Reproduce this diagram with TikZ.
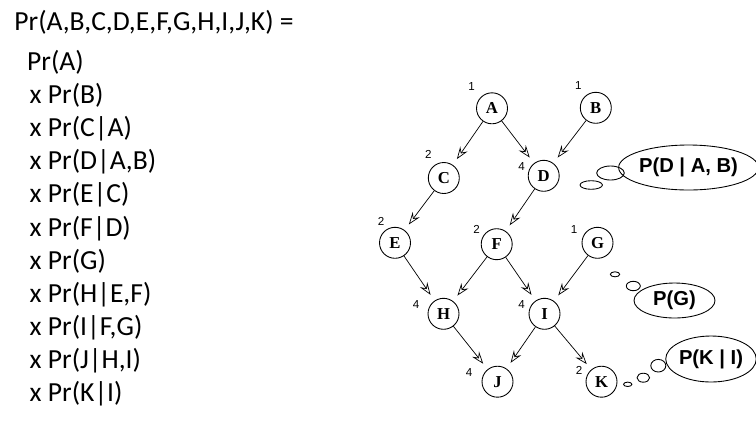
\documentclass[tikz,border=0pt]{standalone}
\usepackage{fontspec}
\setmainfont{Liberation Serif}
\newfontfamily\calibri{Carlito}
\newfontfamily\arial{Liberation Sans}
\usetikzlibrary{arrows.meta,shapes.geometric}

\begin{document}
\begin{tikzpicture}[x=0.02cm,y=-0.02cm,line width=0.5pt,
    >={Stealth[open,length=7pt,width=5pt,inset=2.5pt]},
    var/.style={draw,circle,minimum size=0.62cm,inner sep=0pt,font=\fontsize{9.5}{11}\selectfont\bfseries},
    num/.style={inner sep=0pt,font=\arial\fontsize{6.6}{8}\selectfont},
    thought/.style={draw,ellipse,inner sep=0pt,font=\arial\fontsize{11.5}{13}\selectfont\bfseries},
    term/.style={anchor=base west,inner sep=0pt,font=\calibri\fontsize{15.7}{18}\selectfont},
    dep/.style={->,thin,shorten >=4pt}]
    \useasboundingbox (0,0) rectangle (756,430);

    % factorisation
    \node[term] (l0) at (14,30.7) {Pr(A,B,C,D,E,F,G,H,I,J,K) =};
    \node[term] (l1) at (26.7,70.5) {Pr(A)};
    \node[term] (l2) at (29.3,103.6) {x Pr(B)};
    \node[term] (l3) at (29.3,136.7) {x Pr(C|A)};
    \node[term] (l4) at (29.3,169.8) {x Pr(D|A,B)};
    \node[term] (l5) at (29.3,202.9) {x Pr(E|C)};
    \node[term] (l6) at (29.3,236) {x Pr(F|D)};
    \node[term] (l7) at (29.3,269.1) {x Pr(G)};
    \node[term] (l8) at (29.3,302.2) {x Pr(H|E,F)};
    \node[term] (l9) at (29.3,335.3) {x Pr(I|F,G)};
    \node[term] (l10) at (29.3,368.4) {x Pr(J|H,I)};
    \node[term] (l11) at (29.3,401.5) {x Pr(K|I)};

    % network
    \node[var] (A) at (492,108.3) {A};
    \node[var] (B) at (595.8,107.8) {B};
    \node[var] (C) at (443.8,178) {C};
    \node[var] (D) at (543.7,175.8) {D};
    \node[var] (E) at (395,242.8) {E};
    \node[var] (F) at (496.7,244.2) {F};
    \node[var] (G) at (597.5,242.8) {G};
    \node[var] (H) at (443.5,313.8) {H};
    \node[var] (I) at (544.5,313.8) {I};
    \node[var] (J) at (497.5,381.7) {J};
    \node[var] (K) at (601.5,381.7) {K};

    \node[num] (nA) at (471.7,86.7) {1};
    \node[num] (nB) at (578.3,86) {1};
    \node[num] (nC) at (428.3,154) {2};
    \node[num] (nD) at (521.7,166.7) {4};
    \node[num] (nE) at (381,221.7) {2};
    \node[num] (nF) at (476.7,229.3) {2};
    \node[num] (nG) at (574,230) {1};
    \node[num] (nH) at (416,305) {4};
    \node[num] (nI) at (521.7,305) {4};
    \node[num] (nJ) at (469,372.7) {4};
    \node[num] (nK) at (579,370) {2};

    \draw[dep] (A) to (C);
    \draw[dep] (A) to (D);
    \draw[dep] (B) to (D);
    \draw[dep] (C) to (E);
    \draw[dep] (D) to (F);
    \draw[dep] (E) to (H);
    \draw[dep] (F) to (H);
    \draw[dep] (F) to (I);
    \draw[dep] (G) to (I);
    \draw[dep] (H) to (J);
    \draw[dep] (I) to (J);
    \draw[dep] (I) to (K);

    % thought bubbles
    \node[thought,minimum width=2.46cm,minimum height=0.9cm] (tD) at (688.5,167.5) {P(D | A, B)};
    \draw (610.5,173) ellipse (13.8 and 7);
    \draw (591.2,185) ellipse (11.2 and 4.3);
    \node[thought,minimum width=1.62cm,minimum height=0.7cm] (tG) at (674.5,300.5) {P(G)};
    \draw (633.3,286) ellipse (7 and 4.7);
    \draw (615,274.3) ellipse (4.7 and 2.5);
    \node[thought,minimum width=1.64cm,minimum height=0.92cm] (tK) at (711,359) {P(K | I)};
    \draw (658.3,365.7) ellipse (7.5 and 6.3);
    \draw (643.3,377.7) ellipse (6.3 and 4.5);
    \draw (627.7,384.3) ellipse (4.2 and 2.2);
\end{tikzpicture}
\end{document}
